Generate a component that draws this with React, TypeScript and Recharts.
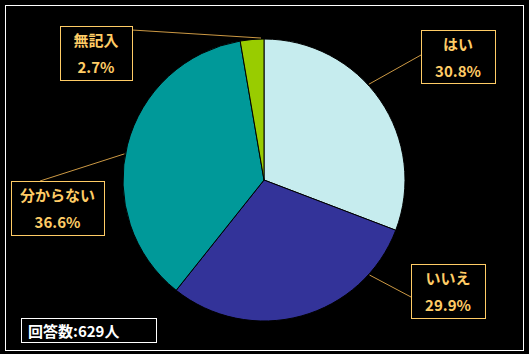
import { PieChart, Pie, Cell } from 'recharts';

const categories = ['はい', 'いいえ', '分からない', '無記入'];
const percents = [30.8, 29.9, 36.6, 2.7];
const colors = ['#c6ecee', '#333399', '#009999', '#99cc00'];
const respondents = '回答数:629人';

const data = categories.map((name, i) => ({ name, value: percents[i] }));

// label box placement + leader line anchor (angle clockwise from top)
const labelLayout = [
  { x: 421, y: 30, w: 74, h: 53, side: 'left', anchor: 47.6, ly: 55 },
  { x: 411, y: 264, w: 74, h: 54, side: 'left', anchor: 132, ly: 297 },
  { x: 11, y: 181, w: 93, h: 54, side: 'top', anchor: 280.6, lx: 40 },
  { x: 60, y: 26, w: 72, h: 54, side: 'right', anchor: 358.8, ly: 30 },
];

const ORANGE = '#ffcc66';
const FONT = '"Noto Sans CJK JP", "DejaVu Sans", sans-serif';

const renderLabel = (props: any) => {
  const { cx, cy, outerRadius, index } = props;
  const l = labelLayout[index];
  const rad = (l.anchor * Math.PI) / 180;
  const ex = cx + (outerRadius + 1) * Math.sin(rad);
  const ey = cy - (outerRadius + 1) * Math.cos(rad);
  let bx = l.x;
  let by = l.y;
  if (l.side === 'left') by = l.ly!;
  if (l.side === 'right') {
    bx = l.x + l.w;
    by = l.ly!;
  }
  if (l.side === 'top') bx = l.lx!;
  const mid = l.x + l.w / 2;
  return (
    <g key={`lbl-${index}`}>
      <line x1={ex} y1={ey} x2={bx} y2={by} stroke="#cc9944" strokeWidth={1} />
      <rect x={l.x + 0.5} y={l.y + 0.5} width={l.w} height={l.h} fill="#000" stroke={ORANGE} strokeWidth={1} />
      <text x={mid} y={l.y + 20} textAnchor="middle" fill={ORANGE} fontSize={15} fontWeight="bold" fontFamily={FONT}>
        {categories[index]}
      </text>
      <text x={mid} y={l.y + 47} textAnchor="middle" fill={ORANGE} fontSize={15} fontWeight="bold" fontFamily={FONT}>
        {`${percents[index]}%`}
      </text>
    </g>
  );
};

export default function App() {
  return (
    <div style={{ position: 'absolute', left: 0, top: 0, width: 529, height: 354, background: '#000' }}>
      <div
        style={{
          position: 'absolute',
          left: 5,
          top: 5,
          width: 517,
          height: 344,
          border: '1px solid #fff',
        }}
      />
      <div style={{ position: 'absolute', left: 0, top: 0 }}>
        <PieChart width={529} height={354} margin={{ top: 0, right: 0, bottom: 0, left: 0 }}>
          <Pie
            data={data}
            dataKey="value"
            cx={264}
            cy={180}
            outerRadius={141}
            startAngle={90}
            endAngle={-270}
            stroke="#000"
            strokeWidth={1}
            label={renderLabel}
            labelLine={false}
            isAnimationActive={false}
          >
            {data.map((d, i) => (
              <Cell key={d.name} fill={colors[i]} />
            ))}
          </Pie>
        </PieChart>
      </div>
      <div
        style={{
          position: 'absolute',
          left: 21,
          top: 318,
          width: 128,
          height: 23,
          border: '1px solid #fff',
          color: '#fff',
          fontFamily: FONT,
          fontSize: 15,
          fontWeight: 'bold',
          lineHeight: '23px',
          paddingLeft: 6,
          boxSizing: 'content-box',
        }}
      >
        {respondents}
      </div>
    </div>
  );
}
